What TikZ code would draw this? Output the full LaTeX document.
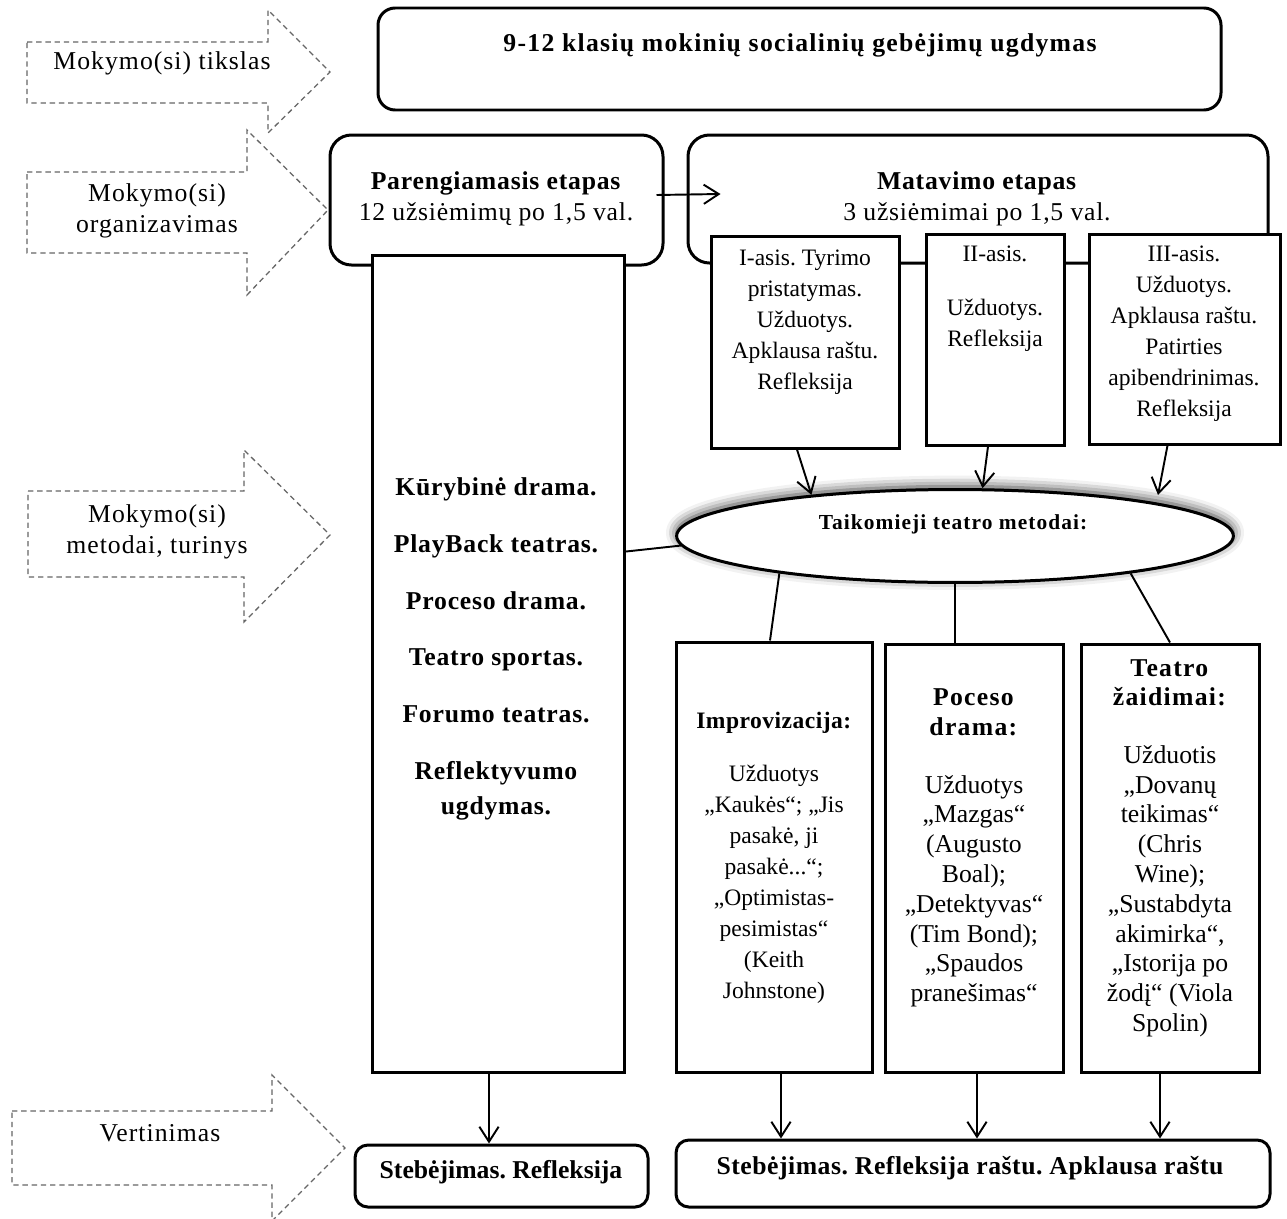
\documentclass[tikz,border=0pt]{standalone}
\usepackage{fontspec}
\setmainfont{Liberation Serif}
\usetikzlibrary{arrows.meta, calc, fit, positioning, shapes.geometric, shadows.blur}
\newcommand\spaced[1]{\addfontfeatures{LetterSpace=#1}}

\begin{document}
\fontsize{12}{14.5}\selectfont\frenchspacing
\begin{tikzpicture}[
  x=0.467pt, y=-0.467pt,
  hintarrow/.style={draw=black!60, dash pattern=on 2.5pt off 1.8pt, line width=0.6pt},
  hinttext/.style={align=center, inner sep=0pt, font=\spaced{4}},
  stagebox/.style={draw, line width=1.4pt, rounded corners=10pt, fill=white, inner sep=0pt},
  stepbox/.style={draw, line width=1.4pt, fill=white, inner sep=0pt},
  endbox/.style={draw, line width=1.4pt, rounded corners=6pt, fill=white, inner sep=0pt},
  boxtext/.style={align=center, inner sep=0pt},
  conn/.style={line width=0.9pt},
  arr/.style={line width=0.9pt, -{Straight Barb[length=7pt, width=9pt]}}
]
\useasboundingbox (0,0) rectangle (1287,1219);

% hints on the left
\draw[hintarrow] (27,42) -- (268,42) -- (268,10) -- (330,72) -- (268,133) -- (268,103) -- (27,103) -- cycle;
\node[hinttext] (goalhint) at (162,63) {Mokymo(si) tikslas};
\draw[hintarrow] (27,172) -- (247,172) -- (247,130) -- (328,210) -- (247,295) -- (247,253) -- (27,253) -- cycle;
\node[hinttext] (orghint) at (157,211) {Mokymo(si)\\ organizavimas};
\draw[hintarrow] (28,491) -- (244,491) -- (244,450) -- (330,535) -- (244,622) -- (244,577) -- (28,577) -- cycle;
\node[hinttext] (methhint) at (157,532) {Mokymo(si)\\ metodai, turinys};
\draw[hintarrow] (12,1111) -- (272,1111) -- (272,1075) -- (345,1148) -- (272,1221) -- (272,1185) -- (12,1185) -- cycle;
\node[hinttext] (evalhint) at (160,1133) {Vertinimas};

% goal and stages
\node[stagebox, rounded corners=8pt, fit={(378,8) (1221,110)}] (goal) {};
\node[boxtext, font=\bfseries\spaced{5}] (goaltext) at (800,45) {9-12 klasių mokinių socialinių gebėjimų ugdymas};

\node[stagebox, fit={(330,135) (663,265)}] (prep) {};
\node[boxtext, font=\spaced{3}] (preptext) at (496,199) {\textbf{Parengiamasis etapas}\\ 12 užsiėmimų po 1,5 val.};
\node[stagebox, fit={(688,135) (1268,263)}] (meas) {};
\node[boxtext, font=\spaced{3}] (meastext) at (977,199) {\textbf{Matavimo etapas}\\ 3 užsiėmimai po 1,5 val.};
\draw[arr] ($(prep.east)+(-8,-5)$) -- ($(meas.west)+(34,-5)$);

% left column
\node[stepbox, fit={(372,255) (624,1072)}] (lrect) {};
\node[boxtext, font=\bfseries\spaced{3}] (lrecttext) at (496,649) {Kūrybinė drama.\\[12pt] PlayBack teatras.\\[12pt] Proceso drama.\\[12pt] Teatro sportas.\\[12pt] Forumo teatras.\\[12pt] Reflektyvumo\\[2pt] ugdymas.};

% measuring steps
\node[stepbox, fit={(711,236) (899,448)}] (s1) {};
\node[boxtext, font=\fontsize{11}{14.5}\selectfont] (s1text) at (805,322) {I-asis. Tyrimo\\ pristatymas.\\ Užduotys.\\ Apklausa raštu.\\ Refleksija};
\node[stepbox, fit={(926,234) (1064,445)}] (s2) {};
\node[boxtext, font=\fontsize{11}{14.5}\selectfont] (s2text) at (995,299) {II-asis.\\[10.7pt] Užduotys.\\ Refleksija};
\node[stepbox, fit={(1089,234) (1280,444)}] (s3) {};
\node[boxtext, font=\fontsize{11}{14.5}\selectfont] (s3text) at (1184,334) {III-asis.\\ Užduotys.\\ Apklausa raštu.\\ Patirties\\ apibendrinimas.\\ Refleksija};

% methods
\node[ellipse, draw, line width=1.4pt, fill=white, minimum width=260pt, minimum height=43.4pt, inner sep=0pt,
  blur shadow={shadow xshift=0pt, shadow yshift=1.5pt, shadow blur radius=5pt, shadow opacity=80}] (methods) at (955,536) {};
\node[boxtext, font=\fontsize{10}{12}\selectfont\bfseries\spaced{5}] (methodstext) at (953,524) {Taikomieji teatro metodai:};

\draw[arr] ($(s1.south)+(-8,0)$) -- (methods.164.8);
\draw[arr] ($(s2.south)+(-7,0)$) -- (methods.60.7);
\draw[arr] ($(s3.south)+(-17,0)$) -- ($(methods.center)+(203,-41)$);
\draw[conn] ($(lrect.north east)!0.3635!(lrect.south east)$) -- (methods.182);

\node[stepbox, fit={(676,642) (872,1072)}] (impro) {};
\node[boxtext, font=\fontsize{11}{14.5}\selectfont] (improtext) at (774,858) {\textbf{\spaced{2}Improvizacija:}\\[10pt] Užduotys\\ „Kaukės“; „Jis\\ pasakė, ji\\ pasakė...“;\\ „Optimistas-\\ pesimistas“\\ (Keith\\ Johnstone)};
\node[stepbox, fit={(885,644) (1063,1072)}] (poceso) {};
\node[boxtext, font=\fontsize{12}{13.9}\selectfont] (pocesotext) at (974,848) {\textbf{\spaced{5}Poceso}\\ \textbf{\spaced{5}drama:}\\[13pt] Užduotys\\ „Mazgas“\\ (Augusto\\ Boal);\\ „Detektyvas“\\ (Tim Bond);\\ „Spaudos\\ pranešimas“};
\node[stepbox, fit={(1081,644) (1259,1072)}] (games) {};
\node[boxtext, font=\fontsize{12}{13.9}\selectfont] (gamestext) at (1170,848) {\textbf{\spaced{5}Teatro}\\ \textbf{\spaced{5}žaidimai:}\\[13pt] Užduotis\\ „Dovanų\\ teikimas“\\ (Chris\\ Wine);\\ „Sustabdyta\\ akimirka“,\\ „Istorija po\\ žodį“ (Viola\\ Spolin)};

\draw[conn] (methods.192.1) -- ($(impro.north)+(-4,0)$);
\draw[conn] (methods.south) -- (methods.south |- poceso.north);
\draw[conn] (methods.348.9) -- (games.north);

% evaluation
\node[endbox, fit={(355,1145) (648,1207)}] (obs1) {};
\node[boxtext, font=\bfseries] (obs1text) at (501,1172) {Stebėjimas. Refleksija};
\node[endbox, fit={(676,1140) (1270,1207)}] (obs2) {};
\node[boxtext, font=\bfseries\spaced{2}] (obs2text) at (970,1168) {Stebėjimas. Refleksija raštu. Apklausa raštu};

\draw[arr] ($(lrect.south)+(-9,0)$) -- ($(lrect.south |- obs1.north)+(-9,0)$);
\draw[arr] ($(impro.south)+(7,0)$) -- ($(impro.south |- obs2.north)+(7,0)$);
\draw[arr] ($(poceso.south)+(3,0)$) -- ($(poceso.south |- obs2.north)+(3,0)$);
\draw[arr] ($(games.south)+(-10,0)$) -- ($(games.south |- obs2.north)+(-10,0)$);
\end{tikzpicture}
\end{document}
